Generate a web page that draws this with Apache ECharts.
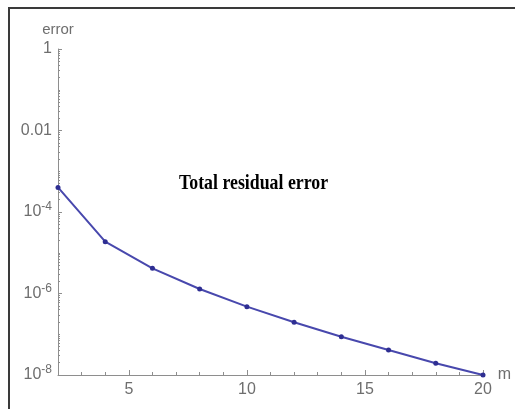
<!DOCTYPE html>
<html>
<head>
<meta charset="utf-8">
<script src="https://cdn.jsdelivr.net/npm/echarts@6/dist/echarts.min.js"></script>
<style>
  html, body { margin: 0; padding: 0; background: #fff; }
  #chart { width: 515px; height: 409px; }
</style>
</head>
<body>
<div id="chart"></div>
<script>
// Total residual error versus number of terms m (log scale)
const mValues = [2, 4, 6, 8, 10, 12, 14, 16, 18, 20];
const errorValues = [4.0e-4, 1.87e-5, 4.15e-6, 1.29e-6, 4.75e-7, 1.97e-7, 8.7e-8, 4.1e-8, 1.94e-8, 1.0e-8];
const xTickLabels = [5, 10, 15, 20];
const yTickLabels = [1e-8, 1e-6, 1e-4, 0.01, 1];
const titleText = 'Total residual error';

const labelFont = '"Liberation Sans Narrow", "Liberation Sans", Arial, sans-serif';
const labelColor = '#6e6e6e';
const axisColor = '#8e8e8e';

// minor ticks on the log axis: k * 10^n
const yMinor = [];
for (let n = -8; n < 0; n++) {
  for (let k = 1; k <= 9; k++) yMinor.push(k * Math.pow(10, n));
}
yMinor.push(1);

function yLabel(v) {
  const e = Math.round(Math.log10(v));
  if (e === 0) return '1';
  if (e === -2) return '0.01';
  return '{b|10}{s|' + (e < 0 ? '-' : '') + Math.abs(e) + '}';
}

const chart = echarts.init(document.getElementById('chart'), null, { renderer: 'canvas' });
chart.setOption({
  animation: false,
  grid: { left: 58, right: 32, top: 49, bottom: 34, containLabel: false },
  xAxis: [{
    type: 'value', min: 2, max: 20,
    name: 'm', nameLocation: 'end', nameGap: 12,
    nameTextStyle: { color: labelColor, fontFamily: labelFont, fontSize: 16, verticalAlign: 'middle', padding: [0, 0, 8, 0] },
    axisLine: { show: true, lineStyle: { color: axisColor, width: 1 } },
    axisTick: { show: true, inside: true, length: 5, customValues: xTickLabels, lineStyle: { color: axisColor } },
    axisLabel: { customValues: xTickLabels, color: labelColor, fontFamily: labelFont, fontSize: 16, margin: 7 },
    splitLine: { show: false }
  }, {
    type: 'value', min: 2, max: 20, interval: 1, position: 'bottom',
    axisLine: { show: false },
    axisTick: { show: true, inside: true, length: 3, lineStyle: { color: axisColor } },
    axisLabel: { show: false },
    splitLine: { show: false }
  }],
  yAxis: [{
    type: 'log', logBase: 10, min: 1e-8, max: 1,
    name: 'error', nameLocation: 'end', nameGap: 12,
    nameTextStyle: { color: labelColor, fontFamily: labelFont, fontSize: 15, align: 'center' },
    axisLine: { show: true, lineStyle: { color: axisColor, width: 1 } },
    axisTick: { show: true, inside: true, length: 4, customValues: yTickLabels, lineStyle: { color: axisColor } },
    axisLabel: {
      customValues: yTickLabels, formatter: yLabel, margin: 6,
      color: labelColor, fontFamily: labelFont, fontSize: 16,
      rich: {
        b: { color: labelColor, fontFamily: labelFont, fontSize: 16 },
        s: { color: labelColor, fontFamily: labelFont, fontSize: 12, padding: [0, 0, 10, 0] }
      }
    },
    splitLine: { show: false }
  }, {
    type: 'log', logBase: 10, min: 1e-8, max: 1, position: 'left',
    axisLine: { show: false },
    axisTick: { show: true, inside: true, length: 2, customValues: yMinor, lineStyle: { color: axisColor } },
    axisLabel: { show: false },
    splitLine: { show: false }
  }],
  series: [{
    type: 'line',
    xAxisIndex: 0, yAxisIndex: 0,
    data: mValues.map((m, i) => [m, errorValues[i]]),
    symbol: 'circle', symbolSize: 5,
    itemStyle: { color: '#2e2e92' },
    lineStyle: { color: '#4848ad', width: 2 },
    z: 5
  }],
  graphic: [{
    type: 'rect', silent: true,
    shape: { x: 9, y: 8, width: 530, height: 430 },
    style: { fill: 'none', stroke: '#3a3a3a', lineWidth: 2 }
  }, {
    type: 'text', silent: true,
    x: 179, y: 183, scaleX: 0.81, scaleY: 1,
    style: {
      text: titleText, fill: '#000',
      font: 'bold 22px "Liberation Serif", "Times New Roman", serif',
      textVerticalAlign: 'middle', verticalAlign: 'middle'
    }
  }]
});
</script>
</body>
</html>
